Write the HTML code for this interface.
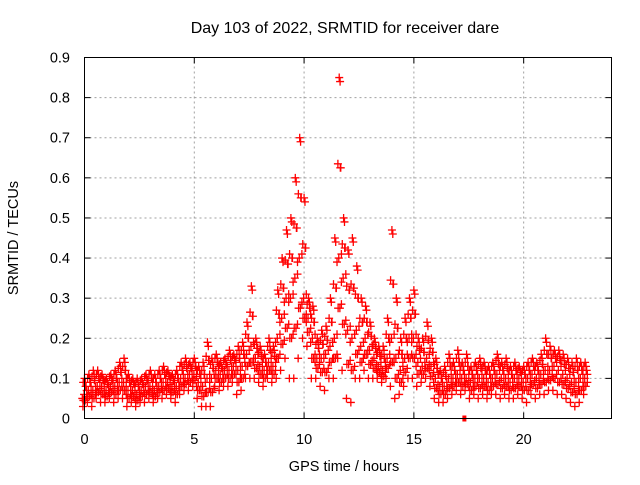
<!DOCTYPE html>
<html><head><meta charset="utf-8"><style>
html,body{margin:0;padding:0;background:#fff}
svg text{font-family:"Liberation Sans",sans-serif;font-size:14.5px;fill:#000}
</style></head><body>
<svg id="chart" width="640" height="480" xmlns="http://www.w3.org/2000/svg">
<rect width="640" height="480" fill="#fff"/>
<text x="345" y="33" text-anchor="middle" style="font-size:16px">Day 103 of 2022, SRMTID for receiver dare</text>
<g id="grid"></g>
<g id="points"></g>
<g id="axes"></g>
<text x="344" y="471" text-anchor="middle">GPS time / hours</text>
<text transform="translate(18,238) rotate(-90)" text-anchor="middle">SRMTID / TECUs</text>
</svg>
<script>
const times=[0,0.2,0.4,0.6,0.8,1.0,1.2,1.4,1.6,1.8,2.0,2.2,2.4,2.6,2.8,3.0,3.2,3.4,3.6,3.8,4.0,4.2,4.4,4.6,4.8,5.0,5.2,5.4,5.6,5.8,6.0,6.2,6.4,6.6,6.8,7.0,7.2,7.4,7.6,7.8,8.0,8.2,8.4,8.6,8.8,9.0,9.2,9.4,9.6,9.8,10.0,10.2,10.4,10.6,10.8,11.0,11.2,11.4,11.6,11.8,12.0,12.2,12.4,12.6,12.8,13.0,13.2,13.4,13.6,13.8,14.0,14.2,14.4,14.6,14.8,15.0,15.2,15.4,15.6,15.8,16.0,16.2,16.4,16.6,16.8,17.0,17.2,17.4,17.6,17.8,18.0,18.2,18.4,18.6,18.8,19.0,19.2,19.4,19.6,19.8,20.0,20.2,20.4,20.6,20.8,21.0,21.2,21.4,21.6,21.8,22.0,22.2,22.4,22.6,22.8];
const lowVals=[.03,.04,.03,.05,.04,.04,.05,.04,.05,.05,.03,.04,.03,.04,.04,.05,.04,.05,.05,.06,.05,.04,.06,.07,.07,.08,.05,.03,.03,.03,.08,.07,.08,.08,.09,.06,.07,.1,.1,.1,.09,.08,.1,.09,.1,.12,.15,.1,.1,.15,.2,.18,.1,.1,.08,.07,.1,.1,.15,.12,.05,.04,.1,.1,.12,.1,.1,.1,.09,.1,.08,.05,.06,.08,.1,.1,.08,.09,.1,.08,.05,.04,.04,.05,.06,.07,.06,.07,.05,.06,.05,.06,.05,.06,.06,.05,.06,.05,.05,.06,.05,.04,.06,.05,.06,.06,.07,.07,.06,.06,.05,.04,.03,.04,.06];
const midVals=[.06,.07,.07,.08,.08,.07,.08,.08,.09,.09,.07,.07,.06,.07,.08,.08,.07,.08,.09,.09,.08,.08,.1,.1,.11,.11,.09,.08,.1,.1,.12,.11,.12,.12,.13,.12,.13,.16,.18,.15,.13,.12,.14,.13,.2,.25,.3,.3,.35,.4,.3,.25,.2,.15,.15,.16,.18,.2,.4,.35,.22,.2,.22,.18,.2,.17,.15,.13,.12,.15,.2,.15,.12,.15,.2,.2,.14,.13,.15,.13,.1,.08,.08,.1,.1,.11,.1,.1,.09,.1,.1,.1,.09,.1,.11,.1,.1,.09,.1,.1,.09,.1,.11,.1,.11,.12,.12,.13,.12,.11,.1,.09,.09,.1,.1];
const highVals=[.1,.11,.12,.12,.11,.1,.11,.12,.14,.15,.11,.1,.1,.1,.11,.12,.11,.12,.13,.12,.11,.12,.14,.15,.14,.15,.13,.14,.19,.15,.16,.14,.15,.17,.16,.18,.19,.24,.33,.2,.18,.16,.2,.18,.32,.4,.47,.5,.6,.7,.55,.3,.28,.2,.22,.23,.3,.45,.85,.5,.42,.45,.38,.3,.28,.24,.2,.18,.18,.25,.47,.3,.2,.25,.3,.32,.2,.2,.24,.2,.15,.12,.13,.16,.14,.17,.14,.16,.13,.14,.15,.14,.13,.14,.16,.14,.15,.13,.14,.13,.13,.14,.15,.14,.16,.2,.18,.17,.17,.16,.15,.14,.15,.14,.14];
const xTicks=[0,5,10,15,20];
const yTicks=[0,0.1,0.2,0.3,0.4,0.5,0.6,0.7,0.8,0.9];
const yTickLabels=["0","0.1","0.2","0.3","0.4","0.5","0.6","0.7","0.8","0.9"];
const L=84.5,R=611.5,T=57.5,B=418.5,XMAX=24,YMAX=0.9;
const xs=v=>L+(R-L)*v/XMAX, ys=v=>B-(B-T)*v/YMAX;
const NS="http://www.w3.org/2000/svg";
function mk(tag,attrs,parent){const e=document.createElementNS(NS,tag);for(const k in attrs)e.setAttribute(k,attrs[k]);parent.appendChild(e);return e;}
const grid=document.getElementById('grid'),axes=document.getElementById('axes'),pts=document.getElementById('points');
xTicks.forEach(t=>{const x=xs(t);
 if(t>0){const g=mk('line',{x1:x,y1:B,x2:x,y2:T,stroke:'#a0a0a0','stroke-dasharray':'2,3'},grid);
 
 }
 mk('line',{x1:x,y1:B,x2:x,y2:B-6,stroke:'#000'},axes);mk('line',{x1:x,y1:T,x2:x,y2:T+6,stroke:'#000'},axes);
 const tx=mk('text',{x:x,y:444,'text-anchor':'middle'},axes);tx.textContent=t;
 
 });
yTicks.forEach((t,i)=>{const y=ys(t);
 if(t>0&&t<YMAX){const g=mk('line',{x1:L,y1:y,x2:R,y2:y,stroke:'#a0a0a0','stroke-dasharray':'2,3'},grid);
 
 }
 mk('line',{x1:L,y1:y,x2:L+6,y2:y,stroke:'#000'},axes);mk('line',{x1:R,y1:y,x2:R-6,y2:y,stroke:'#000'},axes);
 const tx=mk('text',{x:70,y:y+5,'text-anchor':'end'},axes);tx.textContent=yTickLabels[i];
 
 });
mk('rect',{x:L,y:T,width:R-L,height:B-T,fill:'none',stroke:'#000'},axes);
const offs=[-0.07,0.03,-0.02,0.07,0.0,-0.05,0.05];
let d='';
function plus(t,v){const x=xs(t),y=ys(v);d+=`M${x-4},${y}h8M${x},${y-4}v8`;}
times.forEach((t,i)=>{const lo=lowVals[i],mi=midVals[i],hi=highVals[i];
 const lv=[lo,(lo+mi)/2,mi,(mi+hi)/2,hi,(lo+mi)/2,(mi+hi)/2];
 lv.forEach((v,j)=>plus(t+offs[j],v));
 plus(t+0.1,(lo+mi)/2+0.01);plus(t-0.1,mi-0.01);plus(t+0.1,mi+0.01);
 plus(t-0.06,(mi+hi)/2+0.01);plus(t+0.04,hi-0.01);
});
const p=mk('path',{d:d,stroke:'#ff0000','stroke-width':1.3,fill:'none'},pts);


const sq=mk('rect',{x:xs(17.3)-2,y:B-3,width:4,height:6,fill:'#ff0000'},pts);


</script>
</body></html>
